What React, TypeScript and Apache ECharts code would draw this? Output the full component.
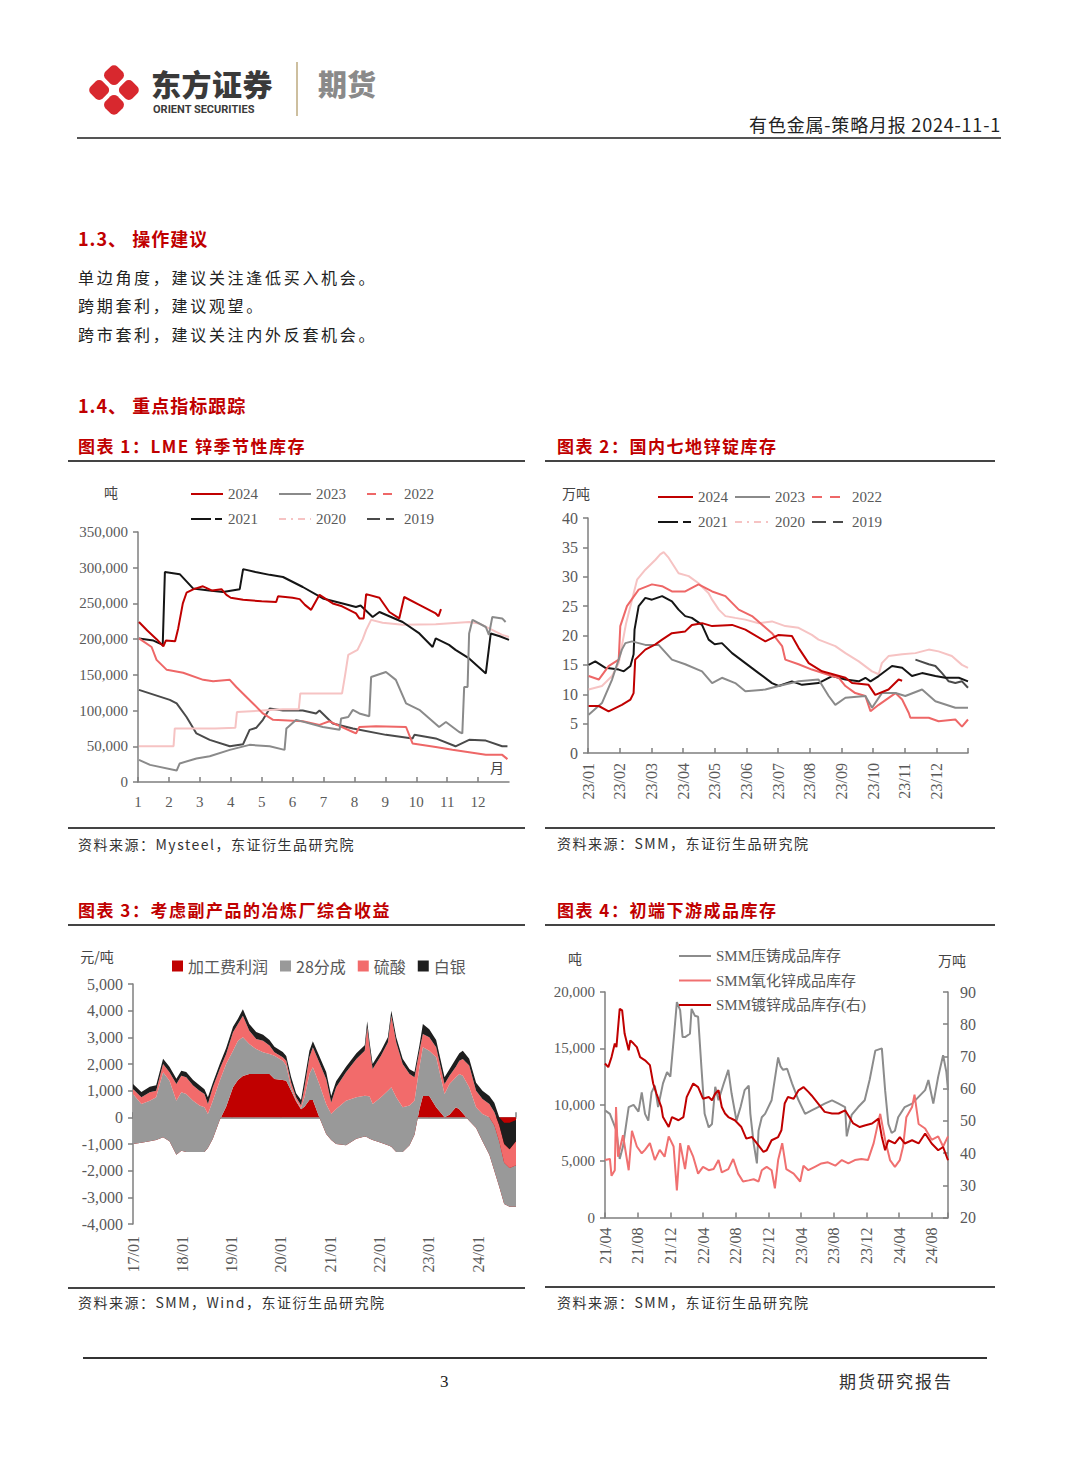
import React, { useEffect, useRef } from 'react';
import * as echarts from 'echarts';

const SERIF = '"Liberation Serif", "Noto Sans CJK SC", serif';
const CJK = '"Noto Sans CJK SC", sans-serif';
const AXIS = '#7f7f7f';
const LABEL = '#595959';
const RED = '#c00000';
const DAY = 86400000;

// ---------------- Chart 1: LME 锌季节性库存 (x = month number, y = 吨) ----------------
const C1_MONTH_LABELS = ['1', '2', '3', '4', '5', '6', '7', '8', '9', '10', '11', '12'];
const C1_2024 = [[1.03,224000],[1.3,212000],[1.6,200000],[1.82,190000],[1.9,198000],[2.2,197000],[2.3,215000],[2.45,250000],[2.57,265000],[2.8,270000],[3.1,274000],[3.4,268000],[3.7,270000],[3.86,262000],[4.0,258000],[4.4,255000],[5.0,253000],[5.47,252000],[5.53,260000],[6.0,258000],[6.23,256000],[6.4,248000],[6.6,241000],[6.87,262000],[7.3,250000],[7.6,246000],[8.05,236000],[8.16,229000],[8.3,229000],[8.38,263000],[8.81,258000],[9.13,238000],[9.45,229000],[9.61,259000],[10.1,248000],[10.63,236000],[10.72,232000],[10.8,242000]];
const C1_2023 = [[1.03,31000],[1.39,24000],[2.25,16000],[2.35,26000],[2.89,33000],[3.32,36000],[3.97,45000],[4.61,52000],[5.26,50000],[5.74,45000],[5.8,75000],[6.12,87000],[6.98,77000],[7.52,73000],[7.57,89000],[7.8,91000],[7.95,101000],[8.16,96000],[8.48,92000],[8.54,147000],[9.02,154000],[9.34,143000],[9.67,110000],[10.1,101000],[10.74,77000],[10.96,84000],[11.39,70000],[11.49,68000],[11.55,133000],[11.66,133000],[11.71,208000],[11.82,227000],[12.25,217000],[12.35,206000],[12.46,231000],[12.78,229000],[12.89,224000]];
const C1_2022 = [[1.03,201000],[1.44,189000],[1.6,171000],[1.93,157000],[2.46,153000],[3.11,143000],[3.43,141000],[3.97,143000],[4.18,133000],[4.72,110000],[5.04,96000],[5.37,87000],[6.33,85000],[6.87,80000],[7.19,85000],[7.95,70000],[8.05,68000],[8.16,77000],[8.7,78000],[9.67,77000],[9.88,54000],[10.63,49000],[11.17,45000],[12.25,38000],[12.78,38000],[12.95,32000]];
const C1_2021 = [[1.03,201000],[1.5,198000],[1.8,192000],[1.87,294000],[2.35,291000],[2.78,271000],[3.3,268000],[3.75,266000],[4.29,270000],[4.4,298000],[4.8,294000],[5.26,290000],[5.69,287000],[6.33,273000],[6.98,257000],[7.62,250000],[8.05,245000],[8.2,247000],[8.59,231000],[8.81,238000],[9.56,224000],[10.1,208000],[10.53,189000],[10.63,201000],[11.06,192000],[11.27,185000],[11.71,173000],[12.25,152000],[12.41,208000],[12.7,204000],[13.0,199000]];
const C1_2020 = [[1.03,50000],[2.15,50000],[2.19,75000],[3.5,75000],[4.15,76000],[4.2,98000],[5.0,100000],[5.69,102000],[6.2,102000],[6.25,124000],[7.0,124000],[7.6,124000],[7.7,150000],[7.8,178000],[8.1,185000],[8.27,200000],[8.38,213000],[8.54,227000],[8.91,223000],[9.56,220000],[10.63,221000],[11.71,224000],[12.03,222000],[12.78,206000],[13.0,203000]];
const C1_2019 = [[1.03,129000],[2.03,115000],[2.25,110000],[2.57,91000],[2.89,68000],[3.32,59000],[3.97,50000],[4.4,53000],[4.61,73000],[4.83,76000],[5.04,87000],[5.26,103000],[5.69,100000],[6.33,100000],[6.76,96000],[6.87,100000],[7.3,82000],[7.95,75000],[9.02,66000],[9.88,61000],[9.94,66000],[10.63,61000],[11.27,50000],[11.71,59000],[12.25,58000],[12.78,50000],[12.95,50000]];

// ---------------- Chart 2: 国内七地锌锭库存 (x = month offset in year, y = 万吨) ----------------
const C2_MONTH_LABELS = ['23/01','23/02','23/03','23/04','23/05','23/06','23/07','23/08','23/09','23/10','23/11','23/12'];
const C2_2024 = [[0.02,8.0],[0.34,8.0],[0.65,7.1],[1.07,8.2],[1.34,9.1],[1.44,10.2],[1.49,15.9],[1.81,17.6],[2.13,18.5],[2.34,19.3],[2.65,20.4],[3.07,20.7],[3.28,21.8],[3.6,22.1],[3.92,21.6],[4.55,21.8],[4.97,21.0],[5.6,19.0],[6.02,20.1],[6.44,19.9],[6.65,17.9],[6.97,15.3],[7.39,13.9],[8.13,12.8],[8.34,11.9],[8.86,11.6],[9.07,9.9],[9.49,10.8],[9.81,12.5],[9.92,12.3]];
const C2_2023 = [[0.02,6.5],[0.44,8.5],[0.76,12.5],[1.07,17.6],[1.18,18.7],[1.39,19.0],[1.81,18.4],[2.23,18.4],[2.65,15.9],[3.07,15.1],[3.6,13.9],[3.92,11.9],[4.23,12.8],[4.65,11.9],[4.97,10.5],[5.6,10.8],[6.02,11.4],[6.65,12.2],[7.28,12.5],[7.6,9.7],[7.81,8.2],[8.13,9.4],[8.76,9.7],[8.97,7.7],[9.28,10.2],[9.71,10.2],[10.02,9.7],[10.55,10.8],[10.97,8.8],[11.6,7.7],[12.0,7.7]];
const C2_2022 = [[0.02,13.1],[0.34,12.5],[0.65,14.8],[0.97,15.9],[1.02,21.6],[1.23,25.0],[1.6,27.8],[2.02,28.7],[2.34,28.4],[2.65,27.5],[3.07,27.5],[3.49,28.7],[3.92,27.5],[4.34,26.7],[4.76,24.4],[5.18,23.3],[5.81,20.4],[6.13,18.2],[6.23,15.9],[6.65,15.1],[7.07,14.2],[7.71,13.1],[7.92,12.8],[8.13,11.4],[8.44,10.2],[8.76,9.7],[8.92,7.1],[9.18,8.2],[9.71,10.2],[9.92,9.1],[10.13,6.8],[10.18,6.0],[10.76,6.0],[11.07,5.4],[11.6,5.7],[11.81,4.5],[12.0,5.7]];
const C2_2021 = [[0.02,15.0],[0.23,15.6],[0.55,14.5],[0.97,14.2],[1.13,13.9],[1.34,14.8],[1.44,16.8],[1.47,21.0],[1.6,25.0],[1.81,26.4],[2.02,26.1],[2.34,26.7],[2.65,25.8],[2.86,24.4],[3.07,23.3],[3.28,23.0],[3.6,21.8],[3.81,19.3],[4.0,18.5],[4.23,18.7],[4.55,17.0],[4.97,15.3],[5.39,13.6],[5.81,11.9],[6.02,11.4],[6.44,12.2],[6.76,11.6],[7.28,11.9],[7.71,13.1],[8.13,12.5],[8.55,12.2],[8.76,12.8],[8.92,12.2],[9.18,13.1],[9.6,14.8],[9.92,14.5],[10.23,13.1],[10.55,13.6],[10.97,13.1],[11.28,12.8],[11.71,12.8],[12.0,12.2]];
const C2_2020 = [[0.02,10.8],[0.44,11.4],[0.76,13.1],[0.97,15.3],[1.2,22.0],[1.55,29.5],[1.81,31.2],[2.13,32.9],[2.28,33.8],[2.39,34.2],[2.55,33.2],[2.86,30.6],[3.18,30.1],[3.49,28.9],[3.81,27.2],[3.92,26.1],[4.13,24.4],[4.34,23.3],[4.65,23.0],[4.97,22.7],[5.39,22.1],[5.81,22.4],[6.23,21.6],[6.65,21.3],[7.07,20.1],[7.28,19.3],[7.81,18.2],[8.13,17.0],[8.55,15.6],[8.97,13.9],[9.18,13.4],[9.28,15.3],[9.49,16.5],[9.92,16.8],[10.34,17.0],[10.76,17.6],[11.07,17.3],[11.49,16.5],[11.81,15.0],[12.0,14.5]];
const C2_2019 = [[10.34,15.9],[10.76,15.1],[10.97,14.8],[11.18,13.6],[11.39,12.2],[11.6,11.9],[11.81,12.2],[12.0,11.1]];

// ---------------- Chart 3: 考虑副产品的冶炼厂综合收益 (元/吨), x = decimal year ----------------
const C3_YEAR_LABELS = ['17/01','18/01','19/01','20/01','21/01','22/01','23/01','24/01'];
const C3_X = [2017.00,2017.17,2017.34,2017.47,2017.61,2017.74,2017.88,2017.98,2018.08,2018.22,2018.35,2018.45,2018.52,2018.62,2018.76,2018.89,2019.03,2019.13,2019.23,2019.36,2019.50,2019.64,2019.77,2019.87,2020.04,2020.11,2020.21,2020.31,2020.41,2020.48,2020.58,2020.65,2020.78,2020.92,2021.02,2021.12,2021.32,2021.53,2021.70,2021.75,2021.80,2021.86,2022.03,2022.17,2022.24,2022.34,2022.47,2022.61,2022.71,2022.81,2022.88,2023.01,2023.15,2023.32,2023.42,2023.55,2023.62,2023.69,2023.82,2023.96,2024.09,2024.23,2024.33,2024.43,2024.53,2024.64,2024.77];
const C3_PROFIT = [-1000,-950,-900,-850,-750,-900,-1400,-1250,-1300,-1300,-1300,-1300,-1150,-800,-100,400,1125,1400,1550,1625,1625,1625,1625,1440,1400,1375,1000,600,300,400,650,650,0,-625,-850,-1000,-1050,-800,-720,-750,-800,-850,-950,-1050,-1100,-1300,-1300,-1050,-650,300,800,800,375,0,100,375,300,150,-125,-400,-900,-1400,-2000,-2600,-3250,-3350,-3350];
const C3_SHARE28 = [1875,1450,1525,1600,2440,2275,2025,2190,2175,1925,1740,1675,1275,1425,1475,1600,1375,1475,1450,1125,935,815,750,870,725,565,100,50,50,350,975,1225,1250,1125,975,1310,1675,1550,1530,1550,1580,1350,1700,2050,2225,2050,1675,1490,1275,1575,1825,1700,1875,875,1150,1125,1325,1410,1250,775,1025,1400,1700,1700,1550,1450,1550];
const C3_ACID = [185,250,315,250,310,315,625,620,625,565,560,500,375,500,435,375,690,625,810,500,380,435,315,130,125,185,200,100,100,375,625,750,810,940,435,815,1065,1440,1690,2575,1820,1310,1560,1810,2685,2060,1625,1185,875,625,500,500,375,375,310,400,500,630,815,625,565,500,500,600,700,700,900];
const C3_SILVER = [190,200,210,200,200,210,200,190,200,210,200,175,250,175,190,225,210,200,240,250,260,225,210,210,200,175,200,150,200,275,250,225,240,260,240,225,210,210,200,225,200,190,190,190,190,190,200,175,200,200,375,300,275,250,240,300,275,310,260,300,310,300,350,300,800,1000,800];

// ---------------- Chart 4: 初端下游成品库存 (x = months since 2021/04) ----------------
const C4_TICK_LABELS = ['21/04','21/08','21/12','22/04','22/08','22/12','23/04','23/08','23/12','24/04','24/08'];
const C4_DIECAST = [[0,9500],[0.6,9200],[1.4,7700],[1.8,5200],[2.2,6300],[2.6,8300],[2.9,9800],[3.5,10000],[4.1,9400],[4.5,11100],[4.9,9200],[5.3,8600],[5.7,11100],[6.1,11700],[6.5,9800],[7.1,11900],[7.6,12900],[8.0,12500],[8.4,15700],[8.8,19100],[9.2,18400],[9.5,16000],[9.8,16000],[10.4,16300],[10.6,18500],[11.0,17900],[11.4,17800],[11.8,13400],[12.2,9200],[12.7,8000],[13.1,8300],[13.5,11600],[13.9,10400],[14.5,11800],[15.1,13100],[15.5,11000],[16.1,8600],[16.6,9800],[17.1,11300],[17.6,11700],[17.8,9200],[18.2,6600],[18.6,4800],[18.8,7700],[19.2,8900],[19.6,9200],[20.4,10400],[21.2,14200],[21.5,13400],[21.8,13100],[22.3,13200],[22.9,11900],[23.7,10400],[24.5,9200],[25.3,9500],[26.1,9800],[26.9,10100],[27.8,10400],[28.6,10100],[29.4,9800],[29.6,7200],[30.2,9100],[31.0,9800],[31.8,10400],[32.4,12200],[33.1,14800],[33.9,15000],[34.3,11300],[34.7,8300],[35.1,7500],[35.5,7700],[35.9,8900],[36.7,9800],[37.6,10100],[38.4,10700],[39.2,11300],[39.6,12200],[40.2,10100],[40.8,12500],[41.4,14400],[41.8,12900],[42.0,11300]];
const C4_ZNO = [[0,5100],[0.6,5200],[0.8,3700],[1.2,4200],[1.35,9800],[1.6,5400],[2.2,7300],[2.9,4200],[3.3,7700],[3.9,6300],[4.5,5700],[4.9,6000],[5.5,6600],[6.1,5100],[6.7,6000],[7.3,5400],[7.8,7200],[8.4,6300],[8.8,2400],[9.2,6600],[9.8,4300],[10.2,6400],[10.8,5400],[11.4,3900],[12.0,4500],[12.7,4200],[13.3,4300],[13.9,5100],[14.3,4000],[15.1,4300],[15.7,5200],[16.3,3900],[16.9,3200],[17.6,3300],[18.2,3400],[18.8,3200],[19.2,4200],[19.8,4500],[20.4,4200],[20.8,2600],[21.2,5100],[21.7,6600],[22.2,4300],[23.1,3900],[23.9,3200],[24.3,4600],[24.9,4200],[25.7,4500],[26.5,4800],[27.3,4900],[28.2,4600],[29.0,5100],[29.8,4800],[30.6,5100],[31.4,5200],[32.2,5100],[32.9,6600],[33.5,8600],[33.7,9200],[34.3,6900],[34.9,5100],[35.5,4500],[36.1,5100],[36.5,6300],[36.9,8900],[37.6,9800],[37.9,10900],[38.4,8300],[39.2,7900],[40.0,6900],[40.8,7200],[41.4,6300],[42.0,7200]];
const C4_GALV = [[0,67.8],[0.4,66.7],[0.8,69.8],[1.2,74.0],[1.4,72.9],[1.8,84.8],[2.1,84.3],[2.4,77.1],[2.9,71.9],[3.1,75.0],[3.5,74.0],[3.9,72.9],[4.3,69.8],[4.9,68.8],[5.5,67.3],[5.9,61.6],[6.3,58.5],[6.9,54.3],[7.1,51.2],[7.8,48.1],[8.2,51.2],[9.0,50.2],[9.6,51.2],[10.0,57.4],[10.8,61.6],[11.4,60.5],[12.0,56.9],[12.7,57.4],[13.1,56.4],[13.5,58.5],[13.9,59.5],[14.3,54.3],[14.7,52.3],[15.1,51.2],[15.9,50.2],[16.7,48.1],[17.3,44.5],[18.0,45.0],[18.6,43.0],[19.4,40.4],[19.8,40.9],[20.4,44.0],[21.2,45.0],[21.6,47.1],[22.0,55.4],[22.4,57.4],[23.1,56.9],[23.7,59.5],[24.3,60.5],[24.9,59.0],[25.3,57.9],[26.1,55.4],[26.9,52.8],[27.8,52.3],[28.6,52.3],[29.4,53.3],[29.8,51.7],[30.4,49.2],[31.2,48.1],[31.8,48.6],[32.7,49.2],[33.5,50.7],[33.9,45.0],[34.3,40.9],[34.7,44.0],[35.5,43.0],[36.1,45.0],[36.7,43.0],[37.6,44.0],[38.4,43.0],[39.2,46.1],[40.0,43.0],[40.8,40.9],[41.4,41.9],[42.0,37.8]];

// ---------------- shared styles ----------------
const axisLine = (extra: any = {}) => ({ show: true, lineStyle: { color: AXIS, width: 1.5 }, ...extra });
const tick = (inside: boolean) => ({ show: true, inside, length: 5, lineStyle: { color: AXIS, width: 1.5 } });
const lbl = (size: number, extra: any = {}) => ({ color: LABEL, fontFamily: SERIF, fontSize: size, ...extra });
const thousands = (v: number) => v.toLocaleString('en-US');
const unitText = (text: string, x: number, y: number) => ({
  type: 'text', x, y, silent: true,
  style: { text, fill: '#444', font: `14px ${CJK}`, textAlign: 'center', textVerticalAlign: 'middle' },
});
const line = (name: string, data: number[][], color: string, width = 2, extra: any = {}) => ({
  type: 'line', name, data, symbol: 'none', showSymbol: false, smooth: false,
  lineStyle: { color, width }, itemStyle: { color }, ...extra,
});
const lineLegend = (left: number, top: number, data: any[], gap: number, width: number) => ({
  left, top, padding: 0, itemWidth: width, itemHeight: 12, itemGap: gap, selectedMode: false,
  itemStyle: { opacity: 0 },
  textStyle: { color: LABEL, fontFamily: SERIF, fontSize: 15, lineHeight: 16 },
  data,
});

const option1 = {
  animation: false,
  grid: { left: 70, top: 67, width: 371, height: 250 },
  legend: [
    lineLegend(122, 21, [{ name: '2024' }, { name: '2023' }, { name: '2022', lineStyle: { type: [9, 7] } }], 20, 32),
    lineLegend(122, 46, [{ name: '2021', lineStyle: { type: [20, 4, 7, 4] } }, { name: '2020', lineStyle: { type: [7, 5, 2, 5] } }, { name: '2019', lineStyle: { type: [13, 6, 8, 6] } }], 20, 32),
  ],
  xAxis: {
    type: 'value', min: 1, max: 13, interval: 1,
    axisLine: axisLine({ onZero: false }), axisTick: tick(true), splitLine: { show: false },
    axisLabel: lbl(15, { margin: 12, showMaxLabel: false, formatter: (v: number) => C1_MONTH_LABELS[v - 1] ?? '' }),
  },
  yAxis: {
    type: 'value', min: 0, max: 350000, interval: 50000,
    axisLine: axisLine(), axisTick: tick(false), splitLine: { show: false },
    axisLabel: lbl(15, { margin: 10, formatter: thousands }),
  },
  graphic: [unitText('吨', 43, 27), unitText('月', 429, 302)],
  series: [
    line('2019', C1_2019, '#4a4a4a'),
    line('2020', C1_2020, '#f6c3c3'),
    line('2021', C1_2021, '#151515'),
    line('2022', C1_2022, '#ee6767'),
    line('2023', C1_2023, '#8a8a8a'),
    line('2024', C1_2024, RED),
  ],
};

const option2 = {
  animation: false,
  grid: { left: 43, top: 53, width: 380, height: 235 },
  legend: [
    lineLegend(112, 24, [{ name: '2024' }, { name: '2023' }, { name: '2022', lineStyle: { type: [10, 8] } }], 6, 35),
    lineLegend(112, 49, [{ name: '2021', lineStyle: { type: [20, 5, 8, 5] } }, { name: '2020', lineStyle: { type: [7, 5, 2, 5] } }, { name: '2019', lineStyle: { type: [14, 7, 10, 4] } }], 6, 35),
  ],
  xAxis: {
    type: 'value', min: 0, max: 12, interval: 1,
    axisLine: axisLine({ onZero: false }), axisTick: tick(true), splitLine: { show: false },
    axisLabel: lbl(16, { margin: 10, rotate: 90, formatter: (v: number) => C2_MONTH_LABELS[v] ?? '' }),
  },
  yAxis: {
    type: 'value', min: 0, max: 40, interval: 5,
    axisLine: axisLine(), axisTick: tick(false), splitLine: { show: false },
    axisLabel: lbl(16, { margin: 10 }),
  },
  graphic: [unitText('万吨', 31, 28)],
  series: [
    line('2019', C2_2019, '#4a4a4a'),
    line('2020', C2_2020, '#f6c3c3'),
    line('2021', C2_2021, '#151515'),
    line('2022', C2_2022, '#ee6767'),
    line('2023', C2_2023, '#8a8a8a'),
    line('2024', C2_2024, RED),
  ],
};

// decimal year -> UTC timestamp (unit conversion only)
const toTime = (yf: number) => {
  const y = Math.floor(yf);
  return Date.UTC(y, 0, 1) + (yf - y) * 365.25 * DAY;
};
const C3_MIN = Date.UTC(2017, 0, 1);
const C3_MAX = toTime(2024.77);
const yearLabel = (v: number) => {
  const d = new Date(v);
  if (d.getUTCMonth() !== 0 || d.getUTCDate() !== 1) return '';
  return C3_YEAR_LABELS[d.getUTCFullYear() - 2017] ?? '';
};
const area = (name: string, ys: number[], color: string) => ({
  type: 'line', name, data: C3_X.map((x, i) => [toTime(x), ys[i]]), stack: 'total', stackStrategy: 'all',
  symbol: 'none', showSymbol: false, lineStyle: { width: 0, color }, itemStyle: { color },
  areaStyle: { color, opacity: 1 },
});
const timeAxisBase = {
  type: 'time', min: C3_MIN, max: C3_MAX, minInterval: 365 * DAY, maxInterval: 366 * DAY, splitLine: { show: false },
};

const option3 = {
  animation: false,
  useUTC: true,
  grid: { left: 65, top: 54, width: 383, height: 240 },
  legend: {
    left: 104, top: 28, padding: 0, icon: 'rect', itemWidth: 11, itemHeight: 11, itemGap: 12, selectedMode: false,
    textStyle: { color: LABEL, fontFamily: CJK, fontSize: 16 },
    data: ['加工费利润', '28分成', '硫酸', '白银'],
  },
  xAxis: [
    {
      ...timeAxisBase, position: 'bottom',
      axisLine: { show: false, onZero: false }, axisTick: { show: false },
      axisLabel: lbl(16, { margin: 12, rotate: 90, hideOverlap: false, formatter: yearLabel }),
    },
    {
      ...timeAxisBase, position: 'top',
      axisLine: axisLine({ onZero: true }), axisTick: tick(false), axisLabel: { show: false },
    },
  ],
  yAxis: {
    type: 'value', min: -4000, max: 5000, interval: 1000,
    axisLine: axisLine(), axisTick: tick(false), splitLine: { show: false },
    axisLabel: lbl(16, { margin: 10, formatter: thousands }),
  },
  graphic: [unitText('元/吨', 29, 26)],
  series: [
    area('加工费利润', C3_PROFIT, RED),
    area('28分成', C3_SHARE28, '#999999'),
    area('硫酸', C3_ACID, '#f26b6b'),
    area('白银', C3_SILVER, '#1e1e1e'),
  ],
};

const option4 = {
  animation: false,
  grid: { left: 60, top: 62, width: 343, height: 225.6 },
  legend: {
    left: 133, top: 18, padding: 0, orient: 'vertical', itemWidth: 32, itemHeight: 12, itemGap: 8.5, selectedMode: false,
    itemStyle: { opacity: 0 },
    textStyle: { color: LABEL, fontFamily: SERIF, fontSize: 15, lineHeight: 16 },
    data: ['SMM压铸成品库存', 'SMM氧化锌成品库存', 'SMM镀锌成品库存(右)'],
  },
  xAxis: {
    type: 'value', min: 0, max: 42, interval: 4,
    axisLine: axisLine({ onZero: false }), axisTick: tick(true), splitLine: { show: false },
    axisLabel: lbl(16, { margin: 10, rotate: 90, formatter: (v: number) => C4_TICK_LABELS[v / 4] ?? '' }),
  },
  yAxis: [
    {
      type: 'value', min: 0, max: 20000, interval: 5000, position: 'left',
      axisLine: axisLine(), axisTick: tick(false), splitLine: { show: false },
      axisLabel: lbl(15, { margin: 10, formatter: thousands }),
    },
    {
      type: 'value', min: 20, max: 90, interval: 10, position: 'right',
      axisLine: axisLine(), axisTick: tick(true), splitLine: { show: false },
      axisLabel: lbl(16, { margin: 12 }),
    },
  ],
  graphic: [unitText('吨', 30, 28), unitText('万吨', 407, 30)],
  series: [
    line('SMM压铸成品库存', C4_DIECAST, '#8c8c8c'),
    line('SMM氧化锌成品库存', C4_ZNO, '#f07070'),
    line('SMM镀锌成品库存(右)', C4_GALV, RED, 2, { yAxisIndex: 1 }),
  ],
};

function EChart({ option, box }: { option: any; box: [number, number, number, number] }) {
  const ref = useRef<HTMLDivElement>(null);
  useEffect(() => {
    const chart = echarts.init(ref.current!, null, { renderer: 'svg' });
    chart.setOption(option);
    return () => chart.dispose();
  }, [option]);
  const [left, top, width, height] = box;
  return <div ref={ref} style={{ position: 'absolute', left, top, width, height }} />;
}

function T({ x, y, size, children, color = '#222', weight = 400, spacing = 0, right = false, font = CJK }: any) {
  const h = Math.round(size * 1.4);
  const pos: any = right ? { right: 1080 - x } : { left: x };
  return (
    <div style={{ position: 'absolute', ...pos, top: y - h / 2, height: h, lineHeight: `${h}px`, fontSize: size, color, fontWeight: weight, letterSpacing: spacing, whiteSpace: 'nowrap', fontFamily: font }}>
      {children}
    </div>
  );
}

function Rule({ x1, x2, y, w = 1.5, color = '#444' }: any) {
  return <div style={{ position: 'absolute', left: x1, top: y - w / 2, width: x2 - x1, height: w, background: color }} />;
}

export default function App() {
  return (
    <div style={{ position: 'absolute', left: 0, top: 0, width: 1080, height: 1466, background: '#fff', overflow: 'hidden', fontFamily: CJK }}>
      {/* header logo */}
      <svg style={{ position: 'absolute', left: 85, top: 60 }} width={58} height={60} viewBox="0 0 58 60">
        <g transform="translate(29,30) rotate(45)">
          <rect x={-19} y={-19} width={17} height={17} rx={5} fill="#d8282e" />
          <rect x={2} y={-19} width={17} height={17} rx={5} fill="#d8282e" />
          <rect x={-19} y={2} width={17} height={17} rx={5} fill="#d8282e" />
          <rect x={2} y={2} width={17} height={17} rx={5} fill="#d8282e" />
        </g>
      </svg>
      <T x={151} y={83} size={30} weight={900} color="#3a3a3a" spacing={0.5}>东方证券</T>
      <T x={153} y={109} size={11} weight={700} color="#3a3a3a" font='Roboto, "Noto Sans", sans-serif'>ORIENT SECURITIES</T>
      <div style={{ position: 'absolute', left: 296, top: 62, width: 1.5, height: 54, background: '#cdbf9f' }} />
      <T x={318} y={83} size={29} weight={900} color="#8a8a8a">期货</T>
      <T x={1001} y={124} size={18} right color="#222" spacing={0.8}>有色金属-策略月报 2024-11-1</T>
      <Rule x1={77} x2={1001} y={138} w={2} color="#555" />

      {/* section text */}
      <T x={78} y={238} size={18} weight={700} color={RED} spacing={1}>1.3、 操作建议</T>
      <T x={78} y={277} size={16} color="#222" spacing={2.7}>单边角度，建议关注逢低买入机会。</T>
      <T x={78} y={305} size={16} color="#222" spacing={2.7}>跨期套利，建议观望。</T>
      <T x={78} y={334} size={16} color="#222" spacing={2.7}>跨市套利，建议关注内外反套机会。</T>
      <T x={78} y={405} size={18} weight={700} color={RED} spacing={1}>1.4、 重点指标跟踪</T>

      {/* chart titles & sources */}
      <T x={78} y={446} size={17} weight={700} color={RED} spacing={1.5}>图表 1：LME 锌季节性库存</T>
      <Rule x1={68} x2={525} y={461} />
      <T x={557} y={446} size={17} weight={700} color={RED} spacing={1.5}>图表 2：国内七地锌锭库存</T>
      <Rule x1={545} x2={995} y={461} />
      <Rule x1={68} x2={525} y={828} />
      <T x={78} y={844} size={14} color="#333" spacing={1.5}>资料来源：Mysteel，东证衍生品研究院</T>
      <Rule x1={545} x2={995} y={828} />
      <T x={557} y={843} size={14} color="#333" spacing={1.5}>资料来源：SMM，东证衍生品研究院</T>

      <T x={78} y={910} size={17} weight={700} color={RED} spacing={1.5}>图表 3：考虑副产品的冶炼厂综合收益</T>
      <Rule x1={68} x2={525} y={925} />
      <T x={557} y={910} size={17} weight={700} color={RED} spacing={1.5}>图表 4：初端下游成品库存</T>
      <Rule x1={545} x2={995} y={925} />
      <Rule x1={68} x2={525} y={1288} />
      <T x={78} y={1302} size={14} color="#333" spacing={1.5}>资料来源：SMM，Wind，东证衍生品研究院</T>
      <Rule x1={545} x2={995} y={1287} />
      <T x={557} y={1302} size={14} color="#333" spacing={1.5}>资料来源：SMM，东证衍生品研究院</T>

      {/* charts */}
      <EChart option={option1} box={[68, 465, 457, 360]} />
      <EChart option={option2} box={[545, 465, 455, 360]} />
      <EChart option={option3} box={[68, 930, 457, 355]} />
      <EChart option={option4} box={[545, 930, 455, 355]} />

      {/* footer */}
      <Rule x1={83} x2={987} y={1358} w={1.5} color="#333" />
      <T x={440} y={1382} size={17} color="#222" font={SERIF}>3</T>
      <T x={953} y={1381} size={17} right color="#333" spacing={2}>期货研究报告</T>
    </div>
  );
}
